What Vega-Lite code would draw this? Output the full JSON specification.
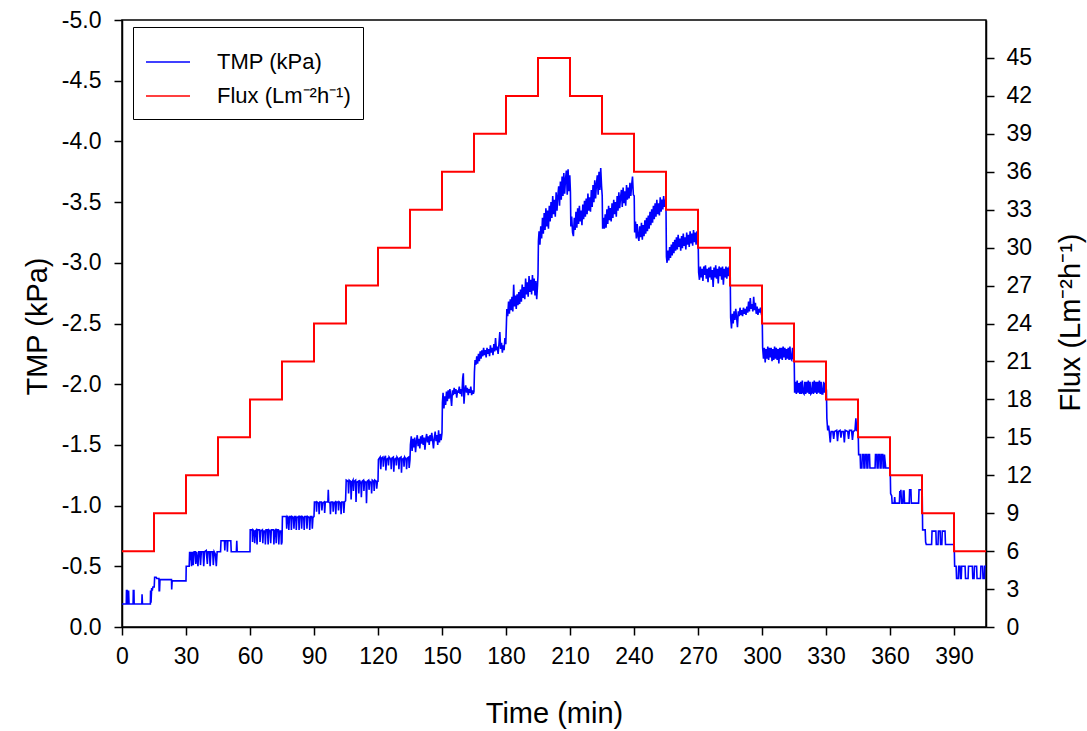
{
  "$schema": "https://vega.github.io/schema/vega-lite/v6.json",
  "autosize": {"type": "none"},
  "width": 864,
  "height": 607,
  "padding": {"left": 122, "top": 20, "right": 101, "bottom": 104},
  "background": "white",
  "config": {
    "view": {"stroke": "black", "strokeWidth": 1.5},
    "font": "Liberation Sans",
    "axis": {
      "grid": false,
      "domainColor": "black",
      "domainWidth": 1.5,
      "tickColor": "black",
      "tickWidth": 1.5,
      "tickSize": 8,
      "labelFont": "Liberation Sans",
      "labelFontSize": 23,
      "labelColor": "black",
      "titleFont": "Liberation Sans",
      "titleFontSize": 29,
      "titleFontWeight": "normal",
      "titleColor": "black"
    },
    "legend": {
      "labelFont": "Liberation Sans",
      "labelFontSize": 22,
      "labelColor": "black"
    }
  },
  "datasets": {
    "tmp": [
      {"t":0,"v":-0.19},{"t":2.0,"v":-0.19},{"t":2.1,"v":-0.30},{"t":2.4,"v":-0.30},{"t":2.5,"v":-0.19},{"t":3.0,"v":-0.19},{"t":3.1,"v":-0.30},{"t":3.3,"v":-0.19},{"t":5.2,"v":-0.19},{"t":5.3,"v":-0.30},{"t":5.6,"v":-0.30},{"t":5.7,"v":-0.19},{"t":9.3,"v":-0.19},{"t":9.4,"v":-0.27},{"t":9.6,"v":-0.19},{"t":13.3,"v":-0.19},{"t":13.4,"v":-0.30},{"t":13.6,"v":-0.20},{"t":13.9,"v":-0.32},{"t":14.2,"v":-0.30},{"t":14.5,"v":-0.33},{"t":15.0,"v":-0.33},
      {"t":15.1,"v":-0.33},{"t":15.3,"v":-0.41},{"t":16.0,"v":-0.41},{"t":16.3,"v":-0.40},{"t":17.3,"v":-0.40},{"t":17.4,"v":-0.30},{"t":17.6,"v":-0.30},{"t":17.8,"v":-0.39},{"t":23.2,"v":-0.39},{"t":23.3,"v":-0.31},{"t":23.5,"v":-0.38},{"t":30.0,"v":-0.38},
      {"t":30.1,"v":-0.50},{"t":31.5,"v":-0.50},{"t":31.7,"v":-0.62},{"t":32.0,"v":-0.55},{"t":32.2,"v":-0.62},{"t":32.6,"v":-0.50},{"t":33.0,"v":-0.62},{"t":33.4,"v":-0.51},{"t":33.8,"v":-0.62},{"t":34.4,"v":-0.62},{"t":34.6,"v":-0.52},{"t":35.0,"v":-0.62},{"t":35.6,"v":-0.50},{"t":36.0,"v":-0.62},{"t":36.5,"v":-0.62},{"t":36.8,"v":-0.51},{"t":37.2,"v":-0.62},{"t":38.0,"v":-0.62},{"t":38.3,"v":-0.50},{"t":38.7,"v":-0.62},{"t":39.5,"v":-0.63},{"t":40.0,"v":-0.52},{"t":40.3,"v":-0.62},{"t":41.0,"v":-0.62},{"t":41.3,"v":-0.50},{"t":41.7,"v":-0.62},{"t":42.5,"v":-0.62},{"t":42.8,"v":-0.51},{"t":43.2,"v":-0.62},{"t":43.8,"v":-0.60},{"t":44.2,"v":-0.50},{"t":44.6,"v":-0.62},{"t":45.2,"v":-0.62},
      {"t":46.2,"v":-0.62},{"t":46.4,"v":-0.71},{"t":48.0,"v":-0.71},{"t":48.2,"v":-0.63},{"t":48.4,"v":-0.71},{"t":49.2,"v":-0.71},{"t":49.4,"v":-0.62},{"t":49.6,"v":-0.71},{"t":51.0,"v":-0.71},{"t":51.2,"v":-0.62},{"t":53.6,"v":-0.62},{"t":53.8,"v":-0.71},{"t":54.0,"v":-0.62},{"t":60.0,"v":-0.62},
      {"t":60.1,"v":-0.80},{"t":61.0,"v":-0.80},{"t":61.2,"v":-0.70},{"t":61.4,"v":-0.80},{"t":62.0,"v":-0.79},{"t":62.2,"v":-0.69},{"t":62.5,"v":-0.79},{"t":63.0,"v":-0.80},{"t":63.3,"v":-0.68},{"t":63.6,"v":-0.80},{"t":64.5,"v":-0.80},{"t":64.7,"v":-0.70},{"t":65.0,"v":-0.79},{"t":65.8,"v":-0.80},{"t":66.0,"v":-0.69},{"t":66.3,"v":-0.79},{"t":67.0,"v":-0.79},{"t":67.2,"v":-0.68},{"t":67.5,"v":-0.80},{"t":68.2,"v":-0.80},{"t":68.5,"v":-0.68},{"t":68.8,"v":-0.80},{"t":69.5,"v":-0.79},{"t":69.7,"v":-0.69},{"t":70.0,"v":-0.80},{"t":71.0,"v":-0.80},{"t":71.2,"v":-0.68},{"t":71.5,"v":-0.79},{"t":72.0,"v":-0.80},{"t":72.3,"v":-0.69},{"t":72.6,"v":-0.80},{"t":73.3,"v":-0.80},{"t":73.5,"v":-0.68},{"t":73.8,"v":-0.79},{"t":74.5,"v":-0.79},{"t":74.7,"v":-0.68},{"t":75.0,"v":-0.70},
      {"t":75.2,"v":-0.91},{"t":77.0,"v":-0.91},{"t":77.2,"v":-0.81},{"t":77.5,"v":-0.91},{"t":78.0,"v":-0.90},{"t":78.2,"v":-0.80},{"t":78.5,"v":-0.91},{"t":79.2,"v":-0.91},{"t":79.4,"v":-0.80},{"t":79.7,"v":-0.91},{"t":80.4,"v":-0.90},{"t":80.6,"v":-0.81},{"t":80.9,"v":-0.91},{"t":81.5,"v":-0.91},{"t":81.7,"v":-0.80},{"t":82.0,"v":-0.90},{"t":82.8,"v":-0.91},{"t":83.0,"v":-0.80},{"t":83.3,"v":-0.91},{"t":84.0,"v":-0.91},{"t":84.2,"v":-0.81},{"t":84.5,"v":-0.91},{"t":85.2,"v":-0.90},{"t":85.4,"v":-0.80},{"t":85.7,"v":-0.91},{"t":86.5,"v":-0.91},{"t":86.7,"v":-0.81},{"t":87.0,"v":-0.91},{"t":87.8,"v":-0.90},{"t":88.0,"v":-0.80},{"t":88.3,"v":-0.91},{"t":89.0,"v":-0.91},{"t":89.2,"v":-0.81},{"t":89.5,"v":-0.90},{"t":90.0,"v":-0.91},
      {"t":90.2,"v":-1.03},{"t":91.0,"v":-1.03},{"t":91.2,"v":-0.95},{"t":91.4,"v":-1.03},{"t":92.2,"v":-1.02},{"t":92.4,"v":-0.93},{"t":92.7,"v":-1.03},{"t":93.5,"v":-1.03},{"t":93.7,"v":-0.96},{"t":94.0,"v":-1.02},{"t":94.8,"v":-1.03},{"t":95.0,"v":-0.94},{"t":95.3,"v":-1.03},{"t":96.5,"v":-1.03},{"t":96.7,"v":-1.13},{"t":96.9,"v":-1.03},{"t":97.5,"v":-1.02},{"t":97.7,"v":-0.93},{"t":98.0,"v":-1.03},{"t":98.8,"v":-1.03},{"t":99.0,"v":-0.95},{"t":99.3,"v":-1.02},{"t":100.0,"v":-1.03},{"t":100.2,"v":-0.93},{"t":100.5,"v":-1.03},{"t":101.3,"v":-1.03},{"t":101.5,"v":-0.96},{"t":101.8,"v":-1.03},{"t":102.5,"v":-1.02},{"t":102.7,"v":-0.93},{"t":103.0,"v":-1.03},{"t":103.8,"v":-1.03},{"t":104.0,"v":-0.94},{"t":104.3,"v":-1.03},{"t":104.8,"v":-1.04},
      {"t":105.1,"v":-1.21},{"t":106.0,"v":-1.20},{"t":106.2,"v":-1.10},{"t":106.5,"v":-1.21},{"t":107.2,"v":-1.20},{"t":107.4,"v":-1.05},{"t":107.7,"v":-1.19},{"t":108.3,"v":-1.21},{"t":108.5,"v":-1.12},{"t":108.8,"v":-1.20},{"t":109.5,"v":-1.21},{"t":109.7,"v":-1.03},{"t":110.0,"v":-1.19},{"t":110.8,"v":-1.20},{"t":111.0,"v":-1.10},{"t":111.3,"v":-1.21},{"t":112.0,"v":-1.18},{"t":112.2,"v":-1.07},{"t":112.5,"v":-1.20},{"t":113.2,"v":-1.21},{"t":113.4,"v":-1.12},{"t":113.7,"v":-1.20},{"t":114.4,"v":-1.19},{"t":114.6,"v":-1.02},{"t":114.9,"v":-1.20},{"t":115.6,"v":-1.21},{"t":115.8,"v":-1.13},{"t":116.1,"v":-1.20},{"t":116.8,"v":-1.19},{"t":117.0,"v":-1.10},{"t":117.3,"v":-1.21},{"t":118.0,"v":-1.20},{"t":118.2,"v":-1.12},{"t":118.5,"v":-1.21},{"t":119.2,"v":-1.20},{"t":119.4,"v":-1.14},{"t":119.7,"v":-1.20},{"t":120.0,"v":-1.20},
      {"t":120.2,"v":-1.38},{"t":121.0,"v":-1.40},{"t":121.3,"v":-1.30},{"t":121.6,"v":-1.39},{"t":122.3,"v":-1.40},{"t":122.5,"v":-1.32},{"t":122.8,"v":-1.38},{"t":123.5,"v":-1.41},{"t":123.7,"v":-1.29},{"t":124.0,"v":-1.38},{"t":124.7,"v":-1.39},{"t":124.9,"v":-1.33},{"t":125.2,"v":-1.40},{"t":126.0,"v":-1.38},{"t":126.2,"v":-1.30},{"t":126.5,"v":-1.39},{"t":127.2,"v":-1.40},{"t":127.4,"v":-1.28},{"t":127.7,"v":-1.38},{"t":128.4,"v":-1.39},{"t":128.6,"v":-1.33},{"t":128.9,"v":-1.40},{"t":129.6,"v":-1.38},{"t":129.8,"v":-1.30},{"t":130.1,"v":-1.39},{"t":130.8,"v":-1.40},{"t":131.0,"v":-1.27},{"t":131.3,"v":-1.38},{"t":132.0,"v":-1.39},{"t":132.2,"v":-1.32},{"t":132.5,"v":-1.40},{"t":133.2,"v":-1.38},{"t":133.4,"v":-1.30},{"t":133.7,"v":-1.39},{"t":134.4,"v":-1.40},{"t":134.6,"v":-1.31},{"t":135.0,"v":-1.38},
      {"t":135.2,"v":-1.50},{"t":135.6,"v":-1.57},{"t":136.0,"v":-1.45},{"t":136.4,"v":-1.55},{"t":136.8,"v":-1.48},{"t":137.2,"v":-1.56},{"t":137.6,"v":-1.44},{"t":138.0,"v":-1.53},{"t":138.4,"v":-1.58},{"t":138.8,"v":-1.49},{"t":139.2,"v":-1.55},{"t":139.6,"v":-1.47},{"t":140.0,"v":-1.57},{"t":140.4,"v":-1.51},{"t":140.8,"v":-1.58},{"t":141.2,"v":-1.50},{"t":141.6,"v":-1.56},{"t":142.0,"v":-1.46},{"t":142.4,"v":-1.55},{"t":142.8,"v":-1.59},{"t":143.2,"v":-1.52},{"t":143.6,"v":-1.57},{"t":144.0,"v":-1.50},{"t":144.4,"v":-1.58},{"t":144.8,"v":-1.53},{"t":145.2,"v":-1.60},{"t":145.6,"v":-1.54},{"t":146.0,"v":-1.47},{"t":146.4,"v":-1.56},{"t":146.8,"v":-1.61},{"t":147.2,"v":-1.53},{"t":147.6,"v":-1.58},{"t":148.0,"v":-1.50},{"t":148.4,"v":-1.62},{"t":148.8,"v":-1.52},{"t":149.2,"v":-1.59},{"t":149.6,"v":-1.54},{"t":150.0,"v":-1.60},
      {"t":150.2,"v":-1.85},{"t":150.5,"v":-1.93},{"t":150.9,"v":-1.80},{"t":151.3,"v":-1.90},{"t":151.7,"v":-1.83},{"t":152.1,"v":-1.94},{"t":152.5,"v":-1.86},{"t":152.9,"v":-1.95},{"t":153.3,"v":-1.88},{"t":153.7,"v":-1.96},{"t":154.1,"v":-1.90},{"t":154.5,"v":-1.82},{"t":154.9,"v":-1.95},{"t":155.3,"v":-1.91},{"t":155.7,"v":-1.97},{"t":156.1,"v":-1.92},{"t":156.5,"v":-1.96},{"t":156.9,"v":-1.89},{"t":157.3,"v":-1.95},{"t":157.7,"v":-1.93},{"t":158.1,"v":-1.98},{"t":158.5,"v":-1.92},{"t":158.9,"v":-1.96},{"t":159.3,"v":-1.90},{"t":159.7,"v":-2.05},{"t":160.0,"v":-2.09},{"t":160.3,"v":-1.84},{"t":160.7,"v":-1.95},{"t":161.1,"v":-1.99},{"t":161.5,"v":-1.93},{"t":161.9,"v":-1.97},{"t":162.3,"v":-1.91},{"t":162.7,"v":-1.96},{"t":163.1,"v":-1.93},{"t":163.5,"v":-1.98},{"t":163.9,"v":-1.91},{"t":164.3,"v":-1.95},{"t":164.7,"v":-1.92},{"t":165.0,"v":-1.94},
      {"t":165.2,"v":-2.10},{"t":165.5,"v":-2.20},{"t":165.9,"v":-2.16},{"t":166.3,"v":-2.23},{"t":166.7,"v":-2.17},{"t":167.1,"v":-2.25},{"t":167.5,"v":-2.19},{"t":167.9,"v":-2.27},{"t":168.3,"v":-2.21},{"t":168.7,"v":-2.28},{"t":169.1,"v":-2.23},{"t":169.5,"v":-2.30},{"t":169.9,"v":-2.24},{"t":170.3,"v":-2.28},{"t":170.7,"v":-2.22},{"t":171.1,"v":-2.30},{"t":171.5,"v":-2.25},{"t":171.9,"v":-2.29},{"t":172.3,"v":-2.23},{"t":172.7,"v":-2.32},{"t":173.1,"v":-2.26},{"t":173.5,"v":-2.30},{"t":173.9,"v":-2.24},{"t":174.3,"v":-2.33},{"t":174.7,"v":-2.27},{"t":175.1,"v":-2.38},{"t":175.5,"v":-2.28},{"t":175.9,"v":-2.31},{"t":176.3,"v":-2.25},{"t":176.7,"v":-2.33},{"t":177.1,"v":-2.43},{"t":177.5,"v":-2.29},{"t":177.9,"v":-2.34},{"t":178.3,"v":-2.26},{"t":178.7,"v":-2.32},{"t":179.1,"v":-2.28},{"t":179.5,"v":-2.38},{"t":179.9,"v":-2.33},
      {"t":180.2,"v":-2.50},{"t":180.4,"v":-2.62},{"t":180.8,"v":-2.56},{"t":181.2,"v":-2.68},{"t":181.6,"v":-2.58},{"t":182.0,"v":-2.70},{"t":182.4,"v":-2.61},{"t":182.8,"v":-2.72},{"t":183.2,"v":-2.60},{"t":183.6,"v":-2.82},{"t":184.0,"v":-2.64},{"t":184.4,"v":-2.73},{"t":184.8,"v":-2.62},{"t":185.2,"v":-2.74},{"t":185.6,"v":-2.65},{"t":186.0,"v":-2.76},{"t":186.4,"v":-2.66},{"t":186.8,"v":-2.78},{"t":187.2,"v":-2.68},{"t":187.6,"v":-2.82},{"t":188.0,"v":-2.71},{"t":188.4,"v":-2.80},{"t":188.8,"v":-2.70},{"t":189.2,"v":-2.87},{"t":189.6,"v":-2.74},{"t":190.0,"v":-2.84},{"t":190.4,"v":-2.72},{"t":190.8,"v":-2.89},{"t":191.2,"v":-2.76},{"t":191.6,"v":-2.86},{"t":192.0,"v":-2.74},{"t":192.4,"v":-2.90},{"t":192.8,"v":-2.77},{"t":193.2,"v":-2.87},{"t":193.6,"v":-2.73},{"t":194.0,"v":-2.85},{"t":194.4,"v":-2.70},{"t":194.8,"v":-2.82},
      {"t":195.0,"v":-2.90},{"t":195.2,"v":-3.18},{"t":195.5,"v":-3.26},{"t":195.9,"v":-3.15},{"t":196.3,"v":-3.30},{"t":196.7,"v":-3.20},{"t":197.1,"v":-3.37},{"t":197.5,"v":-3.24},{"t":197.9,"v":-3.41},{"t":198.3,"v":-3.27},{"t":198.7,"v":-3.45},{"t":199.1,"v":-3.30},{"t":199.5,"v":-3.43},{"t":199.9,"v":-3.28},{"t":200.3,"v":-3.47},{"t":200.7,"v":-3.34},{"t":201.1,"v":-3.50},{"t":201.5,"v":-3.37},{"t":201.9,"v":-3.55},{"t":202.3,"v":-3.40},{"t":202.7,"v":-3.52},{"t":203.1,"v":-3.38},{"t":203.5,"v":-3.58},{"t":203.9,"v":-3.43},{"t":204.3,"v":-3.55},{"t":204.7,"v":-3.63},{"t":205.1,"v":-3.47},{"t":205.5,"v":-3.67},{"t":205.9,"v":-3.52},{"t":206.3,"v":-3.71},{"t":206.7,"v":-3.55},{"t":207.1,"v":-3.74},{"t":207.5,"v":-3.57},{"t":207.9,"v":-3.69},{"t":208.3,"v":-3.76},{"t":208.7,"v":-3.56},{"t":209.1,"v":-3.77},{"t":209.5,"v":-3.59},{"t":209.9,"v":-3.72},
      {"t":210.2,"v":-3.58},{"t":210.4,"v":-3.30},{"t":210.8,"v":-3.38},{"t":211.2,"v":-3.25},{"t":211.6,"v":-3.22},{"t":212.0,"v":-3.37},{"t":212.4,"v":-3.27},{"t":212.8,"v":-3.42},{"t":213.2,"v":-3.29},{"t":213.6,"v":-3.45},{"t":214.0,"v":-3.32},{"t":214.4,"v":-3.47},{"t":214.8,"v":-3.34},{"t":215.2,"v":-3.43},{"t":215.6,"v":-3.31},{"t":216.0,"v":-3.48},{"t":216.4,"v":-3.36},{"t":216.8,"v":-3.51},{"t":217.2,"v":-3.38},{"t":217.6,"v":-3.53},{"t":218.0,"v":-3.40},{"t":218.4,"v":-3.57},{"t":218.8,"v":-3.43},{"t":219.2,"v":-3.54},{"t":219.6,"v":-3.42},{"t":220.0,"v":-3.60},{"t":220.4,"v":-3.46},{"t":220.8,"v":-3.64},{"t":221.2,"v":-3.50},{"t":221.6,"v":-3.68},{"t":222.0,"v":-3.53},{"t":222.4,"v":-3.65},{"t":222.8,"v":-3.72},{"t":223.2,"v":-3.56},{"t":223.6,"v":-3.75},{"t":224.0,"v":-3.60},{"t":224.4,"v":-3.78},{"t":224.8,"v":-3.63},
      {"t":225.1,"v":-3.55},{"t":225.3,"v":-3.28},{"t":225.7,"v":-3.37},{"t":226.1,"v":-3.28},{"t":226.5,"v":-3.40},{"t":226.9,"v":-3.29},{"t":227.3,"v":-3.44},{"t":227.7,"v":-3.32},{"t":228.1,"v":-3.47},{"t":228.5,"v":-3.35},{"t":228.9,"v":-3.45},{"t":229.3,"v":-3.34},{"t":229.7,"v":-3.49},{"t":230.1,"v":-3.37},{"t":230.5,"v":-3.52},{"t":230.9,"v":-3.40},{"t":231.3,"v":-3.50},{"t":231.7,"v":-3.38},{"t":232.1,"v":-3.55},{"t":232.5,"v":-3.43},{"t":232.9,"v":-3.58},{"t":233.3,"v":-3.45},{"t":233.7,"v":-3.54},{"t":234.1,"v":-3.60},{"t":234.5,"v":-3.46},{"t":234.9,"v":-3.62},{"t":235.3,"v":-3.49},{"t":235.7,"v":-3.59},{"t":236.1,"v":-3.47},{"t":236.5,"v":-3.64},{"t":236.9,"v":-3.52},{"t":237.3,"v":-3.62},{"t":237.7,"v":-3.53},{"t":238.1,"v":-3.66},{"t":238.5,"v":-3.55},{"t":238.9,"v":-3.64},{"t":239.3,"v":-3.71},{"t":239.7,"v":-3.56},
      {"t":240.1,"v":-3.55},{"t":240.3,"v":-3.25},{"t":240.7,"v":-3.34},{"t":241.1,"v":-3.20},{"t":241.5,"v":-3.32},{"t":241.9,"v":-3.22},{"t":242.3,"v":-3.18},{"t":242.7,"v":-3.30},{"t":243.1,"v":-3.21},{"t":243.5,"v":-3.33},{"t":243.9,"v":-3.19},{"t":244.3,"v":-3.31},{"t":244.7,"v":-3.22},{"t":245.1,"v":-3.35},{"t":245.5,"v":-3.24},{"t":245.9,"v":-3.37},{"t":246.3,"v":-3.26},{"t":246.7,"v":-3.39},{"t":247.1,"v":-3.28},{"t":247.5,"v":-3.42},{"t":247.9,"v":-3.31},{"t":248.3,"v":-3.44},{"t":248.7,"v":-3.33},{"t":249.1,"v":-3.47},{"t":249.5,"v":-3.36},{"t":249.9,"v":-3.49},{"t":250.3,"v":-3.38},{"t":250.7,"v":-3.52},{"t":251.1,"v":-3.40},{"t":251.5,"v":-3.49},{"t":251.9,"v":-3.39},{"t":252.3,"v":-3.54},{"t":252.7,"v":-3.42},{"t":253.1,"v":-3.52},{"t":253.5,"v":-3.44},{"t":253.9,"v":-3.55},{"t":254.3,"v":-3.46},{"t":254.7,"v":-3.52},
      {"t":255.0,"v":-3.45},{"t":255.2,"v":-3.05},{"t":255.5,"v":-3.00},{"t":255.9,"v":-3.10},{"t":256.3,"v":-3.02},{"t":256.7,"v":-3.13},{"t":257.1,"v":-3.04},{"t":257.5,"v":-3.15},{"t":257.9,"v":-3.06},{"t":258.3,"v":-3.17},{"t":258.7,"v":-3.08},{"t":259.1,"v":-3.19},{"t":259.5,"v":-3.10},{"t":259.9,"v":-3.21},{"t":260.3,"v":-3.11},{"t":260.7,"v":-3.23},{"t":261.1,"v":-3.13},{"t":261.5,"v":-3.20},{"t":261.9,"v":-3.10},{"t":262.3,"v":-3.22},{"t":262.7,"v":-3.12},{"t":263.1,"v":-3.24},{"t":263.5,"v":-3.14},{"t":263.9,"v":-3.21},{"t":264.3,"v":-3.11},{"t":264.7,"v":-3.25},{"t":265.1,"v":-3.15},{"t":265.5,"v":-3.23},{"t":265.9,"v":-3.13},{"t":266.3,"v":-3.26},{"t":266.7,"v":-3.16},{"t":267.1,"v":-3.24},{"t":267.5,"v":-3.14},{"t":267.9,"v":-3.27},{"t":268.3,"v":-3.17},{"t":268.7,"v":-3.25},{"t":269.1,"v":-3.15},{"t":269.5,"v":-3.26},{"t":269.9,"v":-3.20},
      {"t":270.1,"v":-3.15},{"t":270.3,"v":-2.92},{"t":270.7,"v":-2.86},{"t":271.1,"v":-2.97},{"t":271.5,"v":-2.88},{"t":271.9,"v":-2.95},{"t":272.3,"v":-2.85},{"t":272.7,"v":-2.97},{"t":273.1,"v":-2.90},{"t":273.5,"v":-2.98},{"t":273.9,"v":-2.87},{"t":274.3,"v":-2.95},{"t":274.7,"v":-2.84},{"t":275.1,"v":-2.96},{"t":275.5,"v":-2.88},{"t":275.9,"v":-2.97},{"t":276.3,"v":-2.86},{"t":276.7,"v":-2.94},{"t":277.1,"v":-2.80},{"t":277.5,"v":-2.96},{"t":277.9,"v":-2.88},{"t":278.3,"v":-2.98},{"t":278.7,"v":-2.87},{"t":279.1,"v":-2.95},{"t":279.5,"v":-2.83},{"t":279.9,"v":-2.97},{"t":280.3,"v":-2.89},{"t":280.7,"v":-2.96},{"t":281.1,"v":-2.86},{"t":281.5,"v":-2.97},{"t":281.9,"v":-2.82},{"t":282.3,"v":-2.95},{"t":282.7,"v":-2.88},{"t":283.1,"v":-2.97},{"t":283.5,"v":-2.87},{"t":283.9,"v":-2.96},{"t":284.3,"v":-2.89},{"t":284.7,"v":-2.97},
      {"t":285.1,"v":-2.90},{"t":285.3,"v":-2.55},{"t":285.7,"v":-2.46},{"t":286.1,"v":-2.58},{"t":286.5,"v":-2.50},{"t":286.9,"v":-2.60},{"t":287.3,"v":-2.53},{"t":287.7,"v":-2.62},{"t":288.1,"v":-2.55},{"t":288.5,"v":-2.47},{"t":288.9,"v":-2.60},{"t":289.3,"v":-2.56},{"t":289.7,"v":-2.63},{"t":290.1,"v":-2.57},{"t":290.5,"v":-2.61},{"t":290.9,"v":-2.56},{"t":291.3,"v":-2.63},{"t":291.7,"v":-2.58},{"t":292.1,"v":-2.62},{"t":292.5,"v":-2.57},{"t":292.9,"v":-2.64},{"t":293.3,"v":-2.59},{"t":293.7,"v":-2.68},{"t":294.1,"v":-2.60},{"t":294.5,"v":-2.71},{"t":294.9,"v":-2.62},{"t":295.3,"v":-2.66},{"t":295.7,"v":-2.60},{"t":296.1,"v":-2.72},{"t":296.5,"v":-2.61},{"t":296.9,"v":-2.67},{"t":297.3,"v":-2.58},{"t":297.7,"v":-2.64},{"t":298.1,"v":-2.57},{"t":298.5,"v":-2.62},{"t":298.9,"v":-2.59},{"t":299.3,"v":-2.63},{"t":299.7,"v":-2.58},
      {"t":300.1,"v":-2.55},{"t":300.3,"v":-2.30},{"t":300.7,"v":-2.21},{"t":301.1,"v":-2.30},{"t":301.5,"v":-2.18},{"t":301.9,"v":-2.29},{"t":302.3,"v":-2.21},{"t":302.7,"v":-2.31},{"t":303.1,"v":-2.20},{"t":303.5,"v":-2.30},{"t":303.9,"v":-2.22},{"t":304.3,"v":-2.30},{"t":304.7,"v":-2.19},{"t":305.1,"v":-2.29},{"t":305.5,"v":-2.20},{"t":305.9,"v":-2.31},{"t":306.3,"v":-2.21},{"t":306.7,"v":-2.30},{"t":307.1,"v":-2.20},{"t":307.5,"v":-2.29},{"t":307.9,"v":-2.17},{"t":308.3,"v":-2.30},{"t":308.7,"v":-2.21},{"t":309.1,"v":-2.30},{"t":309.5,"v":-2.20},{"t":309.9,"v":-2.31},{"t":310.3,"v":-2.22},{"t":310.7,"v":-2.30},{"t":311.1,"v":-2.20},{"t":311.5,"v":-2.29},{"t":311.9,"v":-2.21},{"t":312.3,"v":-2.30},{"t":312.7,"v":-2.20},{"t":313.1,"v":-2.31},{"t":313.5,"v":-2.21},{"t":313.9,"v":-2.20},{"t":314.3,"v":-2.30},{"t":314.7,"v":-2.21},
      {"t":315.1,"v":-2.20},{"t":315.3,"v":-1.93},{"t":315.7,"v":-2.02},{"t":316.1,"v":-1.92},{"t":316.5,"v":-2.03},{"t":316.9,"v":-1.93},{"t":317.3,"v":-2.01},{"t":317.7,"v":-1.92},{"t":318.1,"v":-2.02},{"t":318.5,"v":-1.92},{"t":318.9,"v":-2.03},{"t":319.3,"v":-1.93},{"t":319.7,"v":-1.92},{"t":320.1,"v":-2.02},{"t":320.5,"v":-1.92},{"t":320.9,"v":-2.02},{"t":321.3,"v":-1.93},{"t":321.7,"v":-2.03},{"t":322.1,"v":-1.92},{"t":322.5,"v":-2.02},{"t":322.9,"v":-1.92},{"t":323.3,"v":-1.93},{"t":323.7,"v":-2.02},{"t":324.1,"v":-1.92},{"t":324.5,"v":-2.03},{"t":324.9,"v":-1.93},{"t":325.3,"v":-2.02},{"t":325.7,"v":-1.92},{"t":326.1,"v":-2.02},{"t":326.5,"v":-1.93},{"t":326.9,"v":-2.03},{"t":327.3,"v":-1.92},{"t":327.7,"v":-2.02},{"t":328.1,"v":-1.92},{"t":328.5,"v":-1.92},{"t":328.9,"v":-2.02},{"t":329.3,"v":-1.93},{"t":329.7,"v":-2.01},
      {"t":330.2,"v":-1.95},{"t":330.4,"v":-1.72},{"t":330.8,"v":-1.62},{"t":331.2,"v":-1.66},{"t":331.6,"v":-1.60},{"t":332.0,"v":-1.52},{"t":332.4,"v":-1.61},{"t":333.2,"v":-1.61},{"t":333.6,"v":-1.55},{"t":334.0,"v":-1.61},{"t":335.0,"v":-1.62},{"t":335.4,"v":-1.53},{"t":335.8,"v":-1.61},{"t":336.6,"v":-1.62},{"t":337.0,"v":-1.56},{"t":337.4,"v":-1.61},{"t":338.2,"v":-1.61},{"t":338.6,"v":-1.52},{"t":339.0,"v":-1.62},{"t":340.2,"v":-1.61},{"t":340.6,"v":-1.55},{"t":341.0,"v":-1.62},{"t":342.0,"v":-1.62},{"t":342.4,"v":-1.54},{"t":342.8,"v":-1.61},{"t":343.6,"v":-1.62},{"t":344.0,"v":-1.72},{"t":344.4,"v":-1.62},{"t":345.0,"v":-1.61},
      {"t":345.1,"v":-1.60},{"t":345.3,"v":-1.42},{"t":346.0,"v":-1.42},{"t":346.2,"v":-1.31},{"t":346.8,"v":-1.31},{"t":347.0,"v":-1.42},{"t":347.6,"v":-1.42},{"t":347.8,"v":-1.31},{"t":348.2,"v":-1.31},{"t":348.4,"v":-1.42},{"t":349.0,"v":-1.42},{"t":349.2,"v":-1.31},{"t":349.6,"v":-1.31},{"t":349.8,"v":-1.42},{"t":350.4,"v":-1.42},{"t":350.6,"v":-1.31},{"t":353.0,"v":-1.31},{"t":353.2,"v":-1.42},{"t":353.8,"v":-1.42},{"t":354.0,"v":-1.31},{"t":354.4,"v":-1.31},{"t":354.6,"v":-1.42},{"t":355.2,"v":-1.42},{"t":355.4,"v":-1.31},{"t":355.8,"v":-1.31},{"t":356.0,"v":-1.42},{"t":356.6,"v":-1.42},{"t":356.8,"v":-1.31},{"t":357.2,"v":-1.31},{"t":357.4,"v":-1.42},{"t":358.0,"v":-1.31},{"t":360.0,"v":-1.31},
      {"t":360.1,"v":-1.30},{"t":360.3,"v":-1.10},{"t":360.8,"v":-1.08},{"t":361.0,"v":-1.02},{"t":362.0,"v":-1.02},{"t":362.2,"v":-1.07},{"t":362.4,"v":-1.02},{"t":364.4,"v":-1.02},{"t":364.6,"v":-1.12},{"t":364.9,"v":-1.10},{"t":365.1,"v":-1.13},{"t":365.4,"v":-1.02},{"t":366.0,"v":-1.02},{"t":366.2,"v":-1.12},{"t":366.6,"v":-1.12},{"t":366.8,"v":-1.02},{"t":369.0,"v":-1.02},{"t":369.2,"v":-1.13},{"t":369.8,"v":-1.13},{"t":370.0,"v":-1.02},{"t":373.4,"v":-1.02},{"t":373.6,"v":-1.13},{"t":374.8,"v":-1.13},
      {"t":375.1,"v":-1.10},{"t":375.3,"v":-0.80},{"t":376.5,"v":-0.80},{"t":376.7,"v":-0.70},{"t":377.0,"v":-0.68},{"t":379.5,"v":-0.68},{"t":379.7,"v":-0.79},{"t":381.5,"v":-0.79},{"t":381.7,"v":-0.68},{"t":382.5,"v":-0.68},{"t":382.7,"v":-0.79},{"t":383.5,"v":-0.79},{"t":383.7,"v":-0.68},{"t":384.3,"v":-0.68},{"t":384.5,"v":-0.79},{"t":385.8,"v":-0.79},{"t":386.0,"v":-0.68},{"t":390.0,"v":-0.68},
      {"t":390.1,"v":-0.68},{"t":390.3,"v":-0.50},{"t":391.0,"v":-0.50},{"t":391.2,"v":-0.40},{"t":392.0,"v":-0.40},{"t":392.2,"v":-0.50},{"t":392.8,"v":-0.50},{"t":393.0,"v":-0.40},{"t":393.4,"v":-0.40},{"t":393.6,"v":-0.50},{"t":395.2,"v":-0.50},{"t":395.4,"v":-0.40},{"t":396.6,"v":-0.40},{"t":396.8,"v":-0.50},{"t":398.6,"v":-0.50},{"t":398.8,"v":-0.40},{"t":399.4,"v":-0.40},{"t":399.6,"v":-0.50},{"t":400.6,"v":-0.50},{"t":400.8,"v":-0.40},{"t":402.4,"v":-0.40},{"t":402.6,"v":-0.50},{"t":403.4,"v":-0.50},{"t":403.6,"v":-0.40},{"t":404.2,"v":-0.40},{"t":404.4,"v":-0.50},{"t":405.0,"v":-0.50}
    ],
    "flux": [
      {"t":0,"f":6},{"t":15,"f":9},{"t":30,"f":12},{"t":45,"f":15},{"t":60,"f":18},{"t":75,"f":21},{"t":90,"f":24},{"t":105,"f":27},{"t":120,"f":30},{"t":135,"f":33},{"t":150,"f":36},{"t":165,"f":39},{"t":180,"f":42},{"t":195,"f":45},{"t":210,"f":42},{"t":225,"f":39},{"t":240,"f":36},{"t":255,"f":33},{"t":270,"f":30},{"t":285,"f":27},{"t":300,"f":24},{"t":315,"f":21},{"t":330,"f":18},{"t":345,"f":15},{"t":360,"f":12},{"t":375,"f":9},{"t":390,"f":6},{"t":405,"f":6}
    ]
  },
  "layer": [
    {
      "data": {"name": "tmp"},
      "mark": {"type": "line", "strokeWidth": 1.6, "interpolate": "linear"},
      "encoding": {
        "x": {
          "field": "t", "type": "quantitative",
          "scale": {"domain": [0, 405], "nice": false, "zero": false},
          "axis": {
            "title": "Time (min)",
            "values": [0,30,60,90,120,150,180,210,240,270,300,330,360,390],
            "labelFlush": false,
            "labelPadding": 10,
            "titleX": 432, "titleY": 86, "titleAlign": "center", "titleBaseline": "middle"
          }
        },
        "y": {
          "field": "v", "type": "quantitative",
          "scale": {"domain": [-5, 0], "reverse": true, "nice": false, "zero": false},
          "axis": {
            "title": "TMP (kPa)",
            "values": [-5,-4.5,-4,-3.5,-3,-2.5,-2,-1.5,-1,-0.5,0],
            "format": ".1f",
            "labelExpr": "replace(datum.label, '\u2212', '-')",
            "labelPadding": 13,
            "titleX": -85, "titleY": 306, "titleAlign": "center", "titleBaseline": "middle", "titleAngle": -90
          }
        },
        "color": {
          "datum": "TMP (kPa)",
          "scale": {"domain": ["TMP (kPa)", "Flux (Lm\u207b\u00b2h\u207b\u00b9)"], "range": ["#0000ff", "#ff0000"]},
          "legend": {
            "title": null,
            "orient": "none",
            "legendX": 11,
            "legendY": 7,
            "symbolType": "stroke",
            "symbolSize": 1936,
            "symbolStrokeWidth": 1.6,
            "labelOffset": 26,
            "rowPadding": -5,
            "padding": 12,
            "strokeColor": "black",
            "fillColor": "white",
            "cornerRadius": 0
          }
        }
      }
    },
    {
      "data": {"name": "flux"},
      "mark": {"type": "line", "strokeWidth": 2, "interpolate": "step-after"},
      "encoding": {
        "x": {"field": "t", "type": "quantitative"},
        "y": {
          "field": "f", "type": "quantitative",
          "scale": {"domain": [0, 48], "nice": false, "zero": true},
          "axis": {
            "orient": "right",
            "title": "Flux (Lm\u207b\u00b2h\u207b\u00b9)",
            "values": [0,3,6,9,12,15,18,21,24,27,30,33,36,39,42,45],
            "format": "d",
            "labelPadding": 12,
            "titleX": 84, "titleY": 302, "titleAlign": "center", "titleBaseline": "middle", "titleAngle": -90
          }
        },
        "color": {"datum": "Flux (Lm\u207b\u00b2h\u207b\u00b9)"}
      }
    }
  ],
  "resolve": {"scale": {"y": "independent"}}
}
